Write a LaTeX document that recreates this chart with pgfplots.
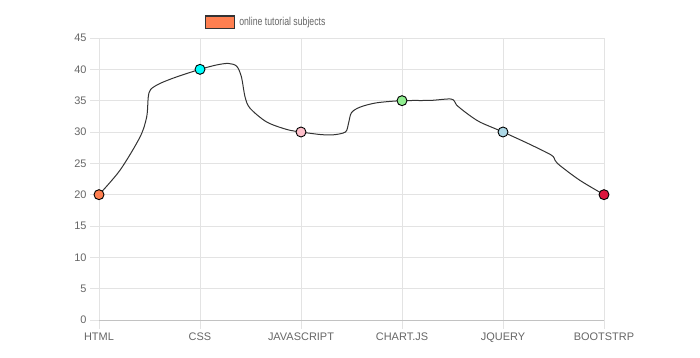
\documentclass[border=0pt]{standalone}
\usepackage{fontspec}
\setmainfont{Liberation Sans}
\usepackage{graphicx}
\usepackage{pgfplots}
\pgfplotsset{compat=1.18}
\definecolor{gridc}{HTML}{E3E3E3}
\definecolor{axisc}{HTML}{C2C2C2}
\definecolor{txt}{HTML}{666666}
\definecolor{coral}{HTML}{FF7F50}
\definecolor{cyanc}{HTML}{00FFFF}
\definecolor{pinkc}{HTML}{FFC0CB}
\definecolor{lgreen}{HTML}{90EE90}
\definecolor{lblue}{HTML}{ADD8E6}
\definecolor{crimson}{HTML}{DC143C}
\pgfplotstableread{
x y c
0 20 a
1 40 b
2 30 c
3 35 d
4 30 e
5 20 f
}\points
\pgfplotstableread{
x y
0 20
0.208 23.9
0.406 29.2
0.472 32.4
0.488 35.6
0.512 36.8
0.604 37.75
0.77 38.8
1 40
1.165 40.7
1.28 40.94
1.363 40.5
1.41 38.8
1.446 35.6
1.495 33.8
1.66 31.6
1.86 30.4
2 30
2.19 29.6
2.32 29.55
2.44 30.0
2.47 31.35
2.5 33.1
2.59 34.0
2.75 34.66
3 35
3.28 35.04
3.49 35.25
3.54 34.3
3.64 33
3.77 31.6
4 30
4.27 28.0
4.48 26.3
4.515 25.5
4.56 24.7
4.76 22.3
5 20
}\curve
\begin{document}
\begin{tikzpicture}
\path[use as bounding box] (0,0) rectangle (700bp,358bp);
\begin{axis}[
 at={(99bp,38bp)}, anchor=south west,
 scale only axis, width=505bp, height=282bp,
 xmin=0, xmax=5, ymin=0, ymax=45,
 xtick={0,...,5},
 xticklabels={HTML,CSS,JAVASCRIPT,CHART.JS,JQUERY,BOOTSTRP},
 ytick={0,5,...,45},
 grid=major, grid style={gridc, line width=0.8bp},
 axis lines*=left, axis line style={gridc, line width=0.8bp},
 x axis line style={axisc},
 tick align=outside, major tick length=9bp,
 tick style={gridc, line width=0.8bp},
 ticklabel style={font=\fontsize{11}{13}\selectfont, text=txt},
 /pgf/number format/assume math mode=true,
 clip=false,
 legend style={at={(axis description cs:0.2099,1.0557)}, anchor=west,
   draw=none, fill=none, inner sep=0pt, outer sep=0pt,
   font=\fontsize{11.5}{13}\selectfont, text=txt,
   /tikz/every even column/.append style={column sep=0bp}},
 legend cell align=left,
]
\addlegendimage{legend image code/.code={\draw[fill=coral, draw=black!80, line width=1.3bp] (0bp,-6.3bp) rectangle (29bp,6.3bp);}}
\addlegendentry{\hspace{2bp}\scalebox{0.76}[1]{online tutorial subjects}}
\addplot[smooth, black!80, line width=1bp, no markers, forget plot] table[x=x,y=y] {\curve};
\addplot[scatter, only marks, point meta=explicit symbolic, forget plot,
  scatter/classes={
   a={mark=*, mark size=5bp, draw=black, line width=0.9bp, fill=coral},
   b={mark=*, mark size=5bp, draw=black, line width=0.9bp, fill=cyanc},
   c={mark=*, mark size=5bp, draw=black, line width=0.9bp, fill=pinkc},
   d={mark=*, mark size=5bp, draw=black, line width=0.9bp, fill=lgreen},
   e={mark=*, mark size=5bp, draw=black, line width=0.9bp, fill=lblue},
   f={mark=*, mark size=5bp, draw=black, line width=0.9bp, fill=crimson}}]
  table[x=x, y=y, meta=c] {\points};
\end{axis}
\end{tikzpicture}
\end{document}
